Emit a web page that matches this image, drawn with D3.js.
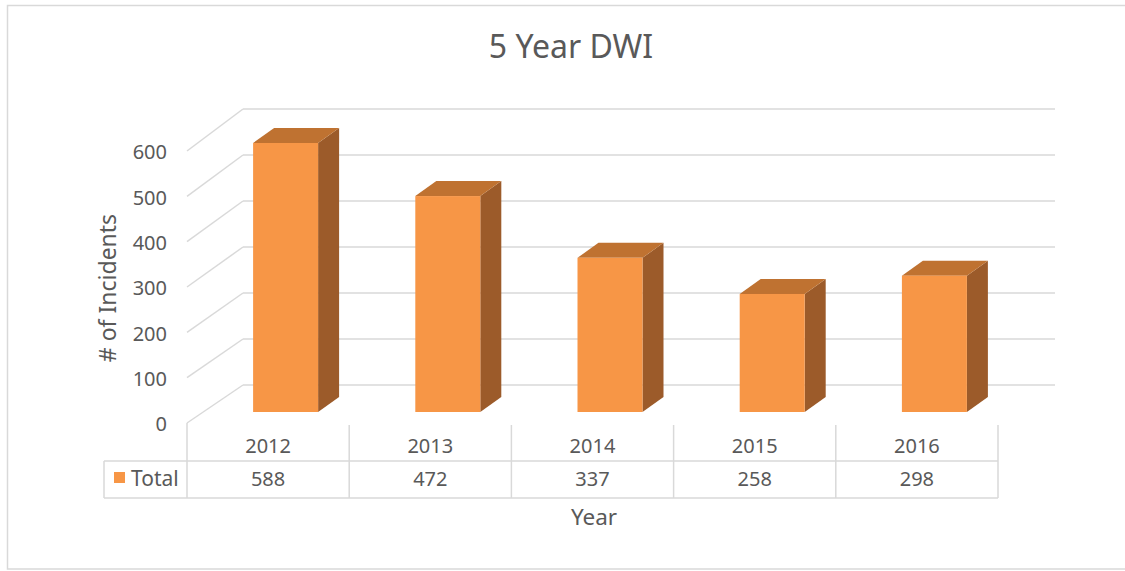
<!DOCTYPE html>
<html><head><meta charset="utf-8">
<script src="https://cdn.jsdelivr.net/npm/d3@7"></script>
<style>body{margin:0;background:#fff;} text{font-family:"Noto Sans",sans-serif;fill:#595959;}</style>
</head><body>
<svg id="c" width="1125" height="571"></svg>
<script>
const years = ["2012","2013","2014","2015","2016"];
const totals = [588, 472, 337, 258, 298];
const yTicks = [0,100,200,300,400,500,600];
const seriesName = "Total";
const titleText = "5 Year DWI";
const xTitle = "Year";
const yTitle = "# of Incidents";

const svg = d3.select("#c");
const colFront = "#F79646", colTop = "#BF7231", colSide = "#9C5B2A", grid = "#D9D9D9";

// frame
svg.append("rect").attr("x",7.5).attr("y",5.5).attr("width",1130).attr("height",563.5)
  .attr("fill","none").attr("stroke",grid).attr("stroke-width",1.5);

const x = d3.scaleBand().domain(years).range([187, 998]).paddingInner(0).paddingOuter(0);
const yFrontWall = d3.scaleLinear().domain([0,600]).range([423,151]);
const yBackWall = d3.scaleLinear().domain([0,600]).range([385,109]);
const yBar = d3.scaleLinear().domain([0,600]).range([412,137.5]);
const backLeft = 243, backRight = 1055, frontLeft = 187;
const depthDX = 21, depthDY = -15, barW = 65, barShift = 17.5;

// gridlines
const g = svg.append("g");
yTicks.forEach(t => {
  g.append("line").attr("x1",frontLeft).attr("y1",yFrontWall(t)).attr("x2",backLeft).attr("y2",yBackWall(t))
    .attr("stroke",grid).attr("stroke-width",1.5);
  g.append("line").attr("x1",backLeft).attr("y1",yBackWall(t)).attr("x2",backRight).attr("y2",yBackWall(t))
    .attr("stroke",grid).attr("stroke-width",1.5);
});
// tick labels
svg.append("g").selectAll("text").data(yTicks).join("text")
  .attr("x",167).attr("y",d=>yFrontWall(d)+3).attr("text-anchor","end").attr("dominant-baseline","middle")
  .attr("font-size",20).text(d=>d);

// bars
const bars = svg.append("g").selectAll("g").data(years.map((y,i)=>({y,v:totals[i]}))).join("g");
bars.each(function(d){
  const gg = d3.select(this);
  const x0 = x(d.y) + x.bandwidth()/2 + barShift - barW/2, x1 = x0 + barW;
  const yt = yBar(d.v), yb = yBar(0);
  gg.append("path").attr("d",`M${x1},${yb}L${x1+depthDX},${yb+depthDY}L${x1+depthDX},${yt+depthDY}L${x1},${yt}Z`).attr("fill",colSide);
  gg.append("path").attr("d",`M${x0},${yt}L${x0+depthDX},${yt+depthDY}L${x1+depthDX},${yt+depthDY}L${x1},${yt}Z`).attr("fill",colTop);
  gg.append("rect").attr("x",x0).attr("y",yt).attr("width",barW).attr("height",yb-yt).attr("fill",colFront);
});

// data table
const tTop = 425, tMid = 461, tBot = 498, legLeft = 104;
const tg = svg.append("g").attr("stroke",grid).attr("stroke-width",1.5);
const vxs = years.map(y=>x(y)).concat([x.range()[1]]);
vxs.forEach((vx,i) => tg.append("line").attr("x1",vx).attr("x2",vx).attr("y1",i===0?yFrontWall(0):tTop).attr("y2",tBot));
tg.append("line").attr("x1",legLeft).attr("x2",998).attr("y1",tMid).attr("y2",tMid);
tg.append("line").attr("x1",legLeft).attr("x2",998).attr("y1",tBot).attr("y2",tBot);
tg.append("line").attr("x1",legLeft).attr("x2",legLeft).attr("y1",tMid).attr("y2",tBot);

svg.append("g").selectAll("text").data(years).join("text")
  .attr("x",d=>x(d)+x.bandwidth()/2).attr("y",(tTop+tMid)/2+5).attr("text-anchor","middle").attr("dominant-baseline","middle")
  .attr("font-size",20).text(d=>d);
svg.append("g").selectAll("text").data(totals).join("text")
  .attr("x",(d,i)=>x(years[i])+x.bandwidth()/2).attr("y",(tMid+tBot)/2+1).attr("text-anchor","middle").attr("dominant-baseline","middle")
  .attr("font-size",20).text(d=>d);
// legend
svg.append("rect").attr("x",114).attr("y",472).attr("width",11).attr("height",11).attr("fill",colFront);
svg.append("text").attr("x",131).attr("y",(tMid+tBot)/2+1).attr("dominant-baseline","middle").attr("font-size",21).text(seriesName);

// titles
svg.append("text").attr("x",571).attr("y",49).attr("text-anchor","middle").attr("dominant-baseline","middle")
  .attr("font-size",32).text(titleText);
svg.append("text").attr("x",594).attr("y",519).attr("text-anchor","middle").attr("dominant-baseline","middle")
  .attr("font-size",22.5).text(xTitle);
svg.append("text").attr("transform","translate(110,288) rotate(-90)").attr("text-anchor","middle").attr("dominant-baseline","middle")
  .attr("font-size",23).text(yTitle);
</script>
</body></html>
